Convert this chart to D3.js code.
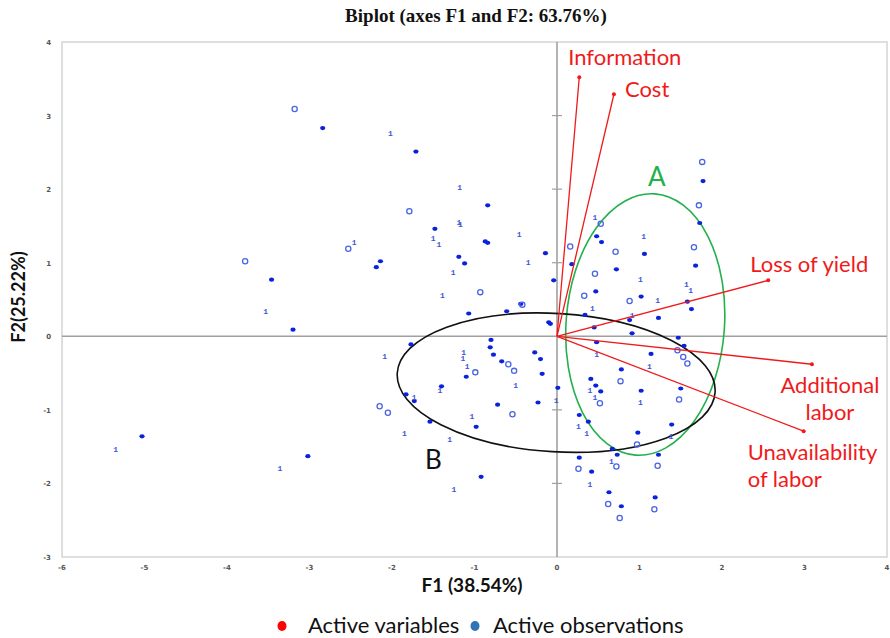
<!DOCTYPE html>
<html>
<head>
<meta charset="utf-8">
<script src="https://cdn.jsdelivr.net/npm/d3@7"></script>
<style>
  body { margin: 0; background: #fff; }
  svg { display: block; }
</style>
</head>
<body>
<svg id="chart" width="890" height="638"></svg>
<script>
// Biplot F1 x F2 – Variablen (rot) und Beobachtungen (blau)

// Variablen: Endpunkte der Vektoren (F1, F2)
const variables = [
  { name: ["Information"], f1: 0.27, f2: 3.52 },
  { name: ["Cost"], f1: 0.69, f2: 3.29 },
  { name: ["Loss of yield"], f1: 2.56, f2: 0.76 },
  { name: ["Additional", "labor"], f1: 3.09, f2: -0.38 },
  { name: ["Unavailability", "of labor"], f1: 2.99, f2: -1.29 }
];

// Beobachtungen – drei Symbolarten: Punkt, Kreis, "1"
const obsDots = [
  [-2.84, 2.83], [-1.71, 2.51], [1.77, 2.11], [-0.84, 1.78], [1.73, 1.54],
  [-1.48, 1.46], [0.48, 1.36], [-0.87, 1.29], [-0.84, 1.27], [0.54, 1.28],
  [-0.14, 1.13], [1.06, 1.12], [-1.19, 1.08], [-3.46, 0.77], [-1.12, 0.99],
  [0.18, 0.98], [1.68, 0.96], [-2.14, 1.02], [-2.19, 0.94], [0.72, 0.91],
  [-0.04, 0.76], [0.47, 0.61], [1.02, 0.54], [1.58, 0.47], [-0.44, 0.44],
  [1.63, 0.37], [-1.07, 0.31], [-0.61, 0.34], [0.34, 0.29], [1.23, 0.25],
  [0.88, 0.22], [-0.10, 0.19], [-0.08, 0.17], [0.45, 0.12], [-3.20, 0.09],
  [0.91, 0.04], [1.47, -0.02], [1.54, -0.13], [0.48, -0.08], [1.14, -0.24],
  [0.78, -0.45], [-0.20, -0.31], [-0.27, -0.22], [-0.18, -0.51], [0.41, -0.58],
  [0.47, -0.67], [0.53, -0.75], [1.02, -0.74], [1.50, -0.71], [0.01, -0.70],
  [0.27, -1.07], [0.38, -1.16], [0.98, -1.31], [1.39, -1.20], [0.67, -1.53],
  [0.73, -1.61], [1.23, -1.61], [0.27, -1.65], [0.42, -1.84], [0.63, -2.12],
  [0.78, -2.31], [1.19, -2.19], [-1.77, -0.11], [-0.80, -0.05], [-0.81, -0.15],
  [-0.77, -0.25], [-0.67, -0.34], [-1.10, -0.55], [-1.40, -0.68], [-1.83, -0.79],
  [-1.73, -0.88], [-0.72, -0.93], [-0.23, -0.90], [-0.98, -1.23], [-1.54, -1.16],
  [-0.92, -1.91], [-5.03, -1.36], [-3.02, -1.63]
];

const obsRings = [
  [-3.18, 3.09], [1.76, 2.37], [1.72, 1.78], [-1.79, 1.70], [0.53, 1.53],
  [0.16, 1.22], [1.66, 1.21], [-2.53, 1.19], [0.71, 1.15], [-3.78, 1.02],
  [0.46, 0.85], [-0.93, 0.60], [0.33, 0.55], [0.88, 0.48], [-0.42, 0.43],
  [1.46, -0.19], [1.53, -0.28], [1.58, -0.37], [0.77, -0.61], [0.52, -0.91],
  [1.48, -0.86], [0.97, -1.47], [0.72, -1.77], [1.22, -1.76], [0.26, -1.80],
  [0.62, -2.28], [0.76, -2.47], [1.18, -2.35], [-0.59, -0.38], [-0.52, -0.47],
  [-0.99, -0.49], [-2.15, -0.95], [-2.05, -1.04], [-0.54, -1.06]
];

const obsOnes = [
  [-2.02, 2.76], [-1.18, 2.03], [0.46, 1.62], [-1.19, 1.56], [-1.17, 1.52],
  [-0.46, 1.39], [1.05, 1.36], [-1.50, 1.33], [-1.43, 1.25], [-2.46, 1.28],
  [-0.35, 1.01], [-1.26, 0.87], [1.01, 0.78], [1.57, 0.71], [1.62, 0.63],
  [-1.39, 0.56], [1.22, 0.50], [0.43, 0.38], [-3.53, 0.35], [0.91, 0.29],
  [0.48, -0.24], [1.12, -0.40], [0.40, -0.73], [0.46, -0.82], [1.01, -0.89],
  [-0.01, -0.86], [0.26, -1.22], [0.36, -1.31], [1.38, -1.36], [0.66, -1.69],
  [0.40, -2.01], [-2.09, -0.27], [-0.50, -0.66], [-1.13, -0.21], [-1.14, -0.30],
  [-1.09, -0.40], [-1.42, -0.73], [-1.73, -0.83], [-1.03, -1.08], [-1.85, -1.32],
  [-1.30, -1.39], [-1.25, -2.07], [-5.35, -1.53], [-3.36, -1.79]
];

// Gruppen-Ellipsen (Datenkoordinaten)
const groups = [
  { label: "A", cx: 1.07, cy: 0.16, rx: 0.96, ry: 1.78, angle: 4.2, labelX: 1.21, labelY: 2.04 },
  { label: "B", cx: -0.01, cy: -0.63, rx: 1.93, ry: 0.94, angle: 3.4, labelX: -1.60, labelY: -1.80 }
];

const xTicks = [-6, -5, -4, -3, -2, -1, 0, 1, 2, 3, 4];
const yTicks = [-3, -2, -1, 0, 1, 2, 3, 4];

const legendItems = ["Active variables", "Active observations"];

// ---------------------------------------------------------------
const svg = d3.select("#chart");
const plot = { left: 62, right: 887, top: 42, bottom: 557 };

const x = d3.scaleLinear().domain([-6, 4]).range([plot.left, plot.right]);
const y = d3.scaleLinear().domain([-3, 4]).range([plot.bottom, plot.top]);

const red = "#f01a1a";
const sans = "Lato, 'Open Sans', sans-serif";

// Rahmen
svg.append("rect")
  .attr("x", plot.left)
  .attr("y", plot.top)
  .attr("width", plot.right - plot.left)
  .attr("height", plot.bottom - plot.top)
  .attr("fill", "none")
  .attr("stroke", "#d4d4d4")
  .attr("stroke-width", 1.5);

// Achsen durch den Ursprung
svg.append("line")
  .attr("x1", plot.left).attr("x2", plot.right)
  .attr("y1", y(0)).attr("y2", y(0))
  .attr("stroke", "#a0a0a0").attr("stroke-width", 1.6);

svg.append("line")
  .attr("x1", x(0)).attr("x2", x(0))
  .attr("y1", plot.top).attr("y2", plot.bottom)
  .attr("stroke", "#a0a0a0").attr("stroke-width", 1.6);

svg.selectAll("line.ytick")
  .data(yTicks.filter(d => d !== 0 && d !== 4 && d !== -3))
  .enter()
  .append("line")
    .attr("class", "ytick")
    .attr("x1", x(0) - 5).attr("x2", x(0) + 5)
    .attr("y1", d => y(d)).attr("y2", d => y(d))
    .attr("stroke", "#a0a0a0").attr("stroke-width", 1.2);

// Tick-Beschriftungen
svg.selectAll("text.xtick")
  .data(xTicks)
  .enter()
  .append("text")
    .attr("class", "xtick")
    .attr("x", d => x(d))
    .attr("y", plot.bottom + 13)
    .attr("text-anchor", "middle")
    .attr("font-family", "'DejaVu Sans', sans-serif")
    .attr("font-size", 7)
    .attr("font-weight", "bold")
    .attr("fill", "#555")
    .text(d => d);

svg.selectAll("text.ytick")
  .data(yTicks)
  .enter()
  .append("text")
    .attr("class", "ytick")
    .attr("x", plot.left - 11)
    .attr("y", d => y(d) + 3)
    .attr("text-anchor", "end")
    .attr("font-family", "'DejaVu Sans', sans-serif")
    .attr("font-size", 7)
    .attr("font-weight", "bold")
    .attr("fill", "#555")
    .text(d => d);

// Titel und Achsentitel
svg.append("text")
  .attr("x", 476)
  .attr("y", 22)
  .attr("text-anchor", "middle")
  .attr("font-family", "'Liberation Serif', 'Times New Roman', serif")
  .attr("font-size", 19)
  .attr("font-weight", "bold")
  .attr("fill", "#111")
  .text("Biplot (axes F1 and F2: 63.76%)");

svg.append("text")
  .attr("x", 472)
  .attr("y", 592)
  .attr("text-anchor", "middle")
  .attr("font-family", sans)
  .attr("font-size", 19)
  .attr("font-weight", "bold")
  .attr("fill", "#111")
  .text("F1 (38.54%)");

svg.append("text")
  .attr("transform", "translate(25,297) rotate(-90)")
  .attr("text-anchor", "middle")
  .attr("font-family", sans)
  .attr("font-size", 18)
  .attr("font-weight", "bold")
  .attr("fill", "#111")
  .text("F2(25.22%)");

// Ellipsen
const ellG = svg.append("g");
groups.forEach((gr, i) => {
  const color = i === 0 ? "#22b14c" : "#111";
  ellG.append("ellipse")
    .attr("transform", `translate(${x(gr.cx)},${y(gr.cy)}) rotate(${gr.angle})`)
    .attr("rx", x(gr.cx + gr.rx) - x(gr.cx))
    .attr("ry", y(gr.cy) - y(gr.cy + gr.ry))
    .attr("fill", "none")
    .attr("stroke", color)
    .attr("stroke-width", 1.6);
  ellG.append("text")
    .attr("x", x(gr.labelX))
    .attr("y", y(gr.labelY))
    .attr("text-anchor", i === 0 ? "middle" : "start")
    .attr("font-family", sans)
    .attr("font-size", 26)
    .attr("fill", color)
    .text(gr.label);
});

// Beobachtungen
const obsG = svg.append("g");
obsG.selectAll("ellipse.dot")
  .data(obsDots)
  .enter()
  .append("ellipse")
    .attr("class", "dot")
    .attr("cx", d => x(d[0]))
    .attr("cy", d => y(d[1]))
    .attr("rx", 2.6)
    .attr("ry", 2.1)
    .attr("fill", "#0a22dc");

obsG.selectAll("circle.ring")
  .data(obsRings)
  .enter()
  .append("circle")
    .attr("class", "ring")
    .attr("cx", d => x(d[0]))
    .attr("cy", d => y(d[1]))
    .attr("r", 2.6)
    .attr("fill", "none")
    .attr("stroke", "#4a64e4")
    .attr("stroke-width", 1.3);

obsG.selectAll("text.one")
  .data(obsOnes)
  .enter()
  .append("text")
    .attr("class", "one")
    .attr("x", d => x(d[0]))
    .attr("y", d => y(d[1]) + 3)
    .attr("text-anchor", "middle")
    .attr("font-family", "'Liberation Mono', monospace")
    .attr("font-size", 8)
    .attr("font-weight", "bold")
    .attr("fill", "#4055d8")
    .text("1");

// Variablen-Vektoren
const labelOffsets = [
  { dx: -11, dy: -12, anchor: "start" },
  { dx: 11, dy: 3, anchor: "start" },
  { dx: -18, dy: -8, anchor: "start" },
  { dx: 18, dy: 29, anchor: "middle" },
  { dx: -56, dy: 29, anchor: "start" }
];

const varG = svg.append("g");
variables.forEach((v, i) => {
  varG.append("line")
    .attr("x1", x(0)).attr("y1", y(0))
    .attr("x2", x(v.f1)).attr("y2", y(v.f2))
    .attr("stroke", red)
    .attr("stroke-width", 1.3);
  varG.append("circle")
    .attr("cx", x(v.f1)).attr("cy", y(v.f2))
    .attr("r", 2)
    .attr("fill", red);
  const off = labelOffsets[i];
  const t = varG.append("text")
    .attr("font-family", sans)
    .attr("font-size", 22)
    .attr("fill", red)
    .attr("text-anchor", off.anchor);
  v.name.forEach((line, j) => {
    t.append("tspan")
      .attr("x", x(v.f1) + off.dx)
      .attr("y", y(v.f2) + off.dy + j * 27)
      .text(line);
  });
});

// Legende
const legendColors = ["#ff0000", "#2e75b6"];
const legend = svg.append("g").attr("transform", "translate(0,626)");
const legX = [282, 475];
legendItems.forEach((lab, i) => {
  legend.append("ellipse")
    .attr("cx", legX[i]).attr("cy", 0)
    .attr("rx", 4.5).attr("ry", 5)
    .attr("fill", legendColors[i]);
  legend.append("text")
    .attr("x", legX[i] + (i === 0 ? 26 : 18))
    .attr("y", 7)
    .attr("font-family", sans)
    .attr("font-size", 22)
    .attr("fill", "#111")
    .text(lab);
});
</script>
</body>
</html>
